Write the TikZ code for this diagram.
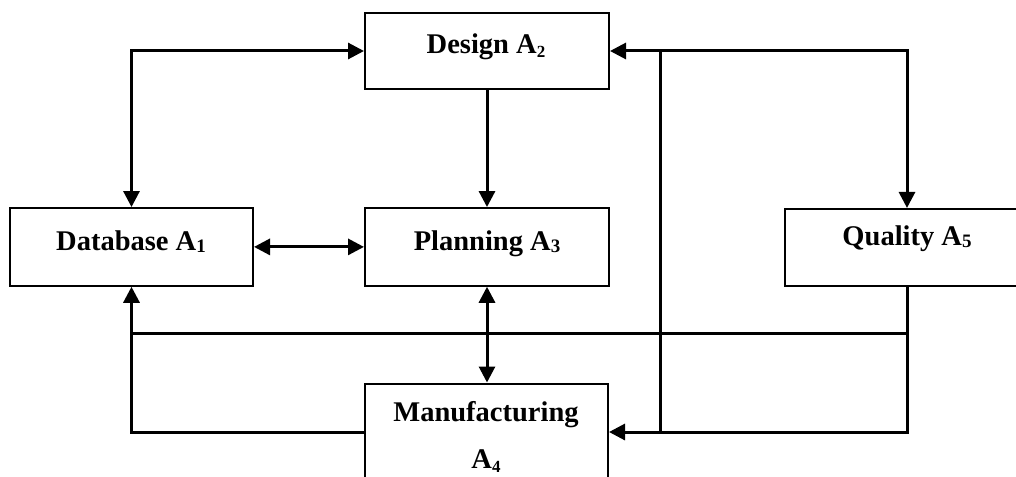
\documentclass[tikz,border=0pt]{standalone}
\usepackage{fontspec}
\setmainfont{Liberation Serif}
\usetikzlibrary{arrows.meta}
% subscripts: a small low one and a larger, less lowered one
\newcommand\subsm[1]{\raisebox{-4pt}{\fontsize{17}{17}\selectfont\bfseries #1}}
\newcommand\subbg[1]{\raisebox{-2pt}{\fontsize{19}{19}\selectfont\bfseries #1}}
\tikzset{
  box/.style={draw=black, line width=2pt, fill=white, rectangle, inner sep=0pt},
  lbl/.style={font=\fontsize{28.5}{34}\selectfont\bfseries, inner sep=0pt, anchor=base},
  link/.style={draw=black, line width=3pt, line join=miter},
  tip/.style={-{Triangle[length=16pt,width=16pt]}},
  tips/.style={{Triangle[length=16pt,width=16pt]}-{Triangle[length=16pt,width=16pt]}},
}
\begin{document}
\begin{tikzpicture}[x=1pt, y=-1pt]
\useasboundingbox (0,0) rectangle (1016,476);
\clip (0,0) rectangle (1016,476);

% boxes
\node[box, minimum width=244pt, minimum height=76pt]   (design) at (487,51) {};
\node[box, minimum width=243pt, minimum height=77.7pt] (db)     at (131.5,246.9) {};
\node[box, minimum width=244pt, minimum height=77.7pt] (plan)   at (487,246.9) {};
\node[box, minimum width=244pt, minimum height=76.7pt] (qual)   at (907,247.3) {};
\node[box, minimum width=243pt, minimum height=97pt]   (mfg)    at (486.5,432) {};

% labels
\node[lbl] (tdesign) at (486,53.3)  {Design A\subsm{2}};
\node[lbl] (tdb)     at (131,250.7) {Database A\subbg{1}};
\node[lbl] (tplan)   at (487,250.7) {Planning A\subbg{3}};
\node[lbl] (tqual)   at (907,245)   {Quality A\subbg{5}};
\node[lbl] (tmfg)    at (486,421.5) {Manufacturing};
\node[lbl] (tmfgb)   at (486,468)   {A\subsm{4}};

% junctions of the feedback lines
\coordinate (jtop)  at (660,51);
\coordinate (jbot)  at (660,432);
\coordinate (jq)    at (907,333);

% connectors
\draw[link, tips] (db.north) |- (design.west);
\draw[link, tip]  (design.south) -- (plan.north);
\draw[link, tips] (db.east) -- (plan.west);
\draw[link, tips] (plan.south) -- (plan.south |- mfg.north);

\draw[link, tip]  (jtop) -- (design.east);
\draw[link, tip]  (jtop) -| (qual.north);
\draw[link]       (jtop) -- (jbot);

\draw[link, tip]  (qual.south) |- (mfg.east);
\draw[link]       (jq) -- (jq -| db.south);
\draw[link, tip]  (mfg.west) -| (db.south);
\end{tikzpicture}
\end{document}
